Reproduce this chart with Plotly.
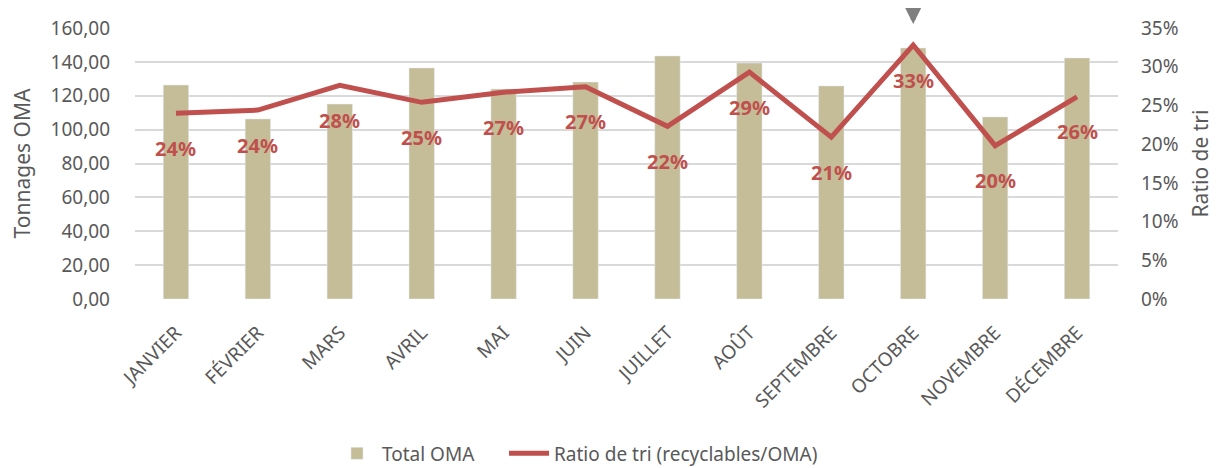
import plotly.graph_objects as go

# Monthly data
months = ["JANVIER", "FÉVRIER", "MARS", "AVRIL", "MAI", "JUIN",
          "JUILLET", "AOÛT", "SEPTEMBRE", "OCTOBRE", "NOVEMBRE", "DÉCEMBRE"]
total_oma = [126.3, 106.3, 115.1, 136.4, 124.0, 128.1,
             143.5, 139.3, 125.8, 148.2, 107.5, 142.3]
ratio_tri = [0.240, 0.244, 0.276, 0.254, 0.267, 0.274,
             0.223, 0.293, 0.209, 0.328, 0.198, 0.261]

left_ticks = [0, 20, 40, 60, 80, 100, 120, 140, 160]
right_ticks = [0, 0.05, 0.10, 0.15, 0.20, 0.25, 0.30, 0.35]

bar_color = "#C4BD97"
line_color = "#C0504D"
text_gray = "#595959"
font_family = "Noto Sans"

fig = go.Figure()

# Bars for total tonnage
fig.add_trace(go.Bar(
    x=months,
    y=total_oma,
    name="Total OMA",
    marker_color=bar_color,
    width=0.31,
    yaxis="y",
    legend="legend",
))

# Sorting ratio line
fig.add_trace(go.Scatter(
    x=months,
    y=ratio_tri,
    name="Ratio de tri (recyclables/OMA)",
    mode="lines",
    line=dict(color=line_color, width=5),
    yaxis="y2",
    legend="legend2",
))

# Data labels below the line points
for m, r in zip(months, ratio_tri):
    fig.add_annotation(
        x=m, y=r, xref="x", yref="y2",
        text=f"<b>{r:.0%}</b>",
        showarrow=False,
        yshift=-35,
        font=dict(family=font_family, size=20, color=line_color),
    )

# Arrow highlighting the peak month
fig.add_annotation(
    x="OCTOBRE", y=1.0, xref="x", yref="paper",
    yshift=4,
    showarrow=True,
    arrowhead=2, arrowsize=0.65, arrowwidth=5,
    arrowcolor="#7F7F7F",
    ax=0, ay=-32,
    text="",
)

legend_style = dict(
    orientation="h",
    xanchor="left",
    y=-0.57, yanchor="middle",
    font=dict(size=19, color=text_gray),
    itemwidth=40,
    bgcolor="rgba(0,0,0,0)",
)

# page body adds an 8px margin, so the figure is 8px smaller than the window
fig.update_layout(
    width=1209,
    height=460,
    margin=dict(l=127, r=99, t=20, b=169, autoexpand=False),
    plot_bgcolor="white",
    paper_bgcolor="white",
    separators=", ",
    font=dict(family=font_family, color=text_gray, size=18),
    bargap=0.6,
    showlegend=True,
    legend=dict(x=0.2004, **legend_style),
    legend2=dict(x=0.3754, **legend_style),
    xaxis=dict(
        tickangle=-45,
        tickfont=dict(size=19, color=text_gray),
        ticklabelstandoff=18,
        showgrid=False,
        showline=False,
        ticks="",
        automargin=False,
    ),
    yaxis=dict(
        range=[0, 160],
        tickvals=left_ticks,
        tickformat=".2f",
        tickfont=dict(size=19, color=text_gray),
        ticklabelstandoff=24,
        showgrid=True,
        gridcolor="#D9D9D9",
        gridwidth=1.5,
        zeroline=False,
        automargin=False,
        title=dict(text="Tonnages OMA", font=dict(size=21, color=text_gray), standoff=18),
    ),
    yaxis2=dict(
        range=[0, 0.35],
        tickvals=right_ticks,
        tickformat=".0%",
        tickfont=dict(size=19, color=text_gray),
        ticklabelstandoff=22,
        overlaying="y",
        side="right",
        showgrid=False,
        zeroline=False,
        automargin=False,
        title=dict(text="Ratio de tri", font=dict(size=21, color=text_gray), standoff=15),
    ),
)

fig.write_html("out.html")
